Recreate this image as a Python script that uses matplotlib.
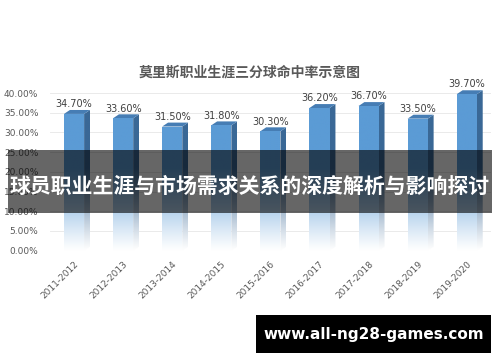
import matplotlib
matplotlib.use("Agg")
import matplotlib.pyplot as plt
from matplotlib.patches import Polygon, Rectangle
import numpy as np

plt.rcParams['font.family'] = ['Noto Sans CJK SC', 'DejaVu Sans']

# data
seasons = ["2011-2012", "2012-2013", "2013-2014", "2014-2015", "2015-2016",
           "2016-2017", "2017-2018", "2018-2019", "2019-2020"]
rates = [34.7, 33.6, 31.5, 31.8, 30.3, 36.2, 36.7, 33.5, 39.7]
yticks = [0, 5, 10, 15, 20, 25, 30, 35, 40]

title = "莫里斯职业生涯三分球命中率示意图"
banner = "球员职业生涯与市场需求关系的深度解析与影响探讨"
site = "www.all-ng28-games.com"

front_c = np.array([91, 155, 213]) / 255
side_c = np.array([58, 104, 150]) / 255
top_c = np.array([70, 125, 180]) / 255
white = np.array([1.0, 1.0, 1.0])

fig = plt.figure(figsize=(5, 3.62), dpi=100)
# y range 0..42 so the 3D top of the last bar fits, 40% still sits at ~93px
ax = fig.add_axes([0.099, 0.3075, 0.8836, 0.4355 * 42 / 40])


def grad_face(verts, color, z, fade=21.0):
    poly = Polygon(verts, closed=True, facecolor='none', edgecolor='none')
    ax.add_patch(poly)
    xs = [v[0] for v in verts]
    ys = [v[1] for v in verts]
    ymax = max(ys)
    yy = np.linspace(0, ymax, 300)
    f = np.clip(yy / fade, 0, 1) ** 1.1
    rgb = white[None, :] * (1 - f[:, None]) + color[None, :] * f[:, None]
    img = rgb[:, None, :]
    im = ax.imshow(img, extent=[min(xs), max(xs), 0, ymax], origin='lower',
                   aspect='auto', interpolation='bilinear', zorder=z)
    im.set_clip_path(poly)


w = 0.41   # front face width
dx = 0.12  # depth offset x
dy = 1.0   # depth offset y

for i, v in enumerate(rates):
    x0 = i - w / 2
    x1 = i + w / 2
    # side face
    grad_face([(x1, 0), (x1 + dx, dy), (x1 + dx, v + dy), (x1, v)], side_c, 2)
    # top face
    ax.add_patch(Polygon([(x0, v), (x1, v), (x1 + dx, v + dy), (x0 + dx, v + dy)],
                         closed=True, facecolor=top_c, edgecolor='none', zorder=3))
    # front face
    grad_face([(x0, 0), (x1, 0), (x1, v), (x0, v)], front_c, 4)
    ax.text(i, v + 1.2, "%.2f%%" % v, ha='center', va='bottom', fontsize=7,
            color='#404040', family=['DejaVu Sans'], zorder=5, clip_on=False)

for t in yticks:
    ax.axhline(t, color='#e6e6e6', lw=0.6, zorder=1)

ax.set_xlim(-0.5, 8.5)
ax.set_ylim(0, 42)
ax.set_yticks(yticks)
ax.set_yticklabels(["%.2f%%" % t for t in yticks], fontsize=6.5, color='#595959',
                   family=['DejaVu Sans'])
ax.set_xticks(range(len(seasons)))
ax.set_xticklabels(seasons, rotation=45, ha='right', rotation_mode='anchor',
                   fontsize=6.5, color='#595959', family=['DejaVu Sans'])
ax.tick_params(length=0, pad=8)
ax.tick_params(axis='x', pad=6)
for s in ax.spines.values():
    s.set_visible(False)

fig.text(0.5, 0.80, title, ha='center', va='center', fontsize=10,
         color='#595959', fontweight='bold')

# dark banner across the middle
fig.patches.append(Rectangle((0.016, 0.412), 0.968, 0.174, transform=fig.transFigure,
                             facecolor='black', alpha=0.6, edgecolor='none', zorder=10))
fig.text(0.5, 0.486, banner, ha='center', va='center', fontsize=15,
         color='white', fontweight='bold', zorder=11)

# watermark box
fig.patches.append(Rectangle((0.512, 0.025), 0.47, 0.105, transform=fig.transFigure,
                             facecolor='black', edgecolor='none', zorder=10))
fig.text(0.747, 0.077, site, ha='center', va='center', fontsize=11,
         color='white', fontweight='bold', family=['DejaVu Sans'], zorder=11)

fig.savefig("out.png", dpi=100)
